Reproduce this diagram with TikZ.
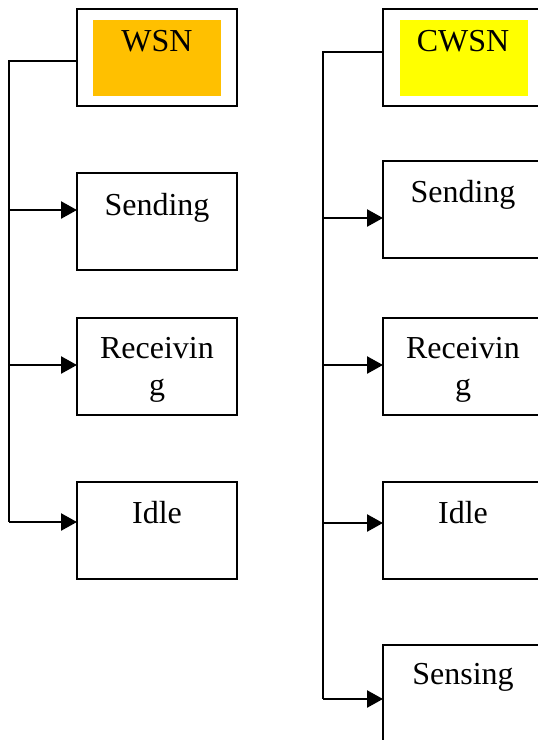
\documentclass[tikz,border=0pt]{standalone}
\usepackage{fontspec}
\setmainfont{Liberation Serif}
\usetikzlibrary{arrows.meta}
\tikzset{
  box/.style={draw=black, line width=1.8pt, rectangle, inner sep=0pt, outer sep=0pt,
    minimum width=160pt, minimum height=97pt, anchor=north west},
  headbox/.style={box, line width=2.4pt},
  fillbox/.style={rectangle, inner sep=0pt, outer sep=0pt, minimum width=128pt,
    minimum height=76pt, anchor=north west},
  txt/.style={font=\fontsize{32}{37}\selectfont, align=center, anchor=base, inner sep=0pt},
  trunk/.style={draw=black, line width=2.2pt},
  arr/.style={draw=black, line width=2.4pt, -{Triangle[length=16pt,width=17pt]}},
}
\definecolor{wsnorange}{HTML}{FFC000}
\definecolor{cwsnyellow}{HTML}{FFFF00}
\begin{document}
\begin{tikzpicture}[x=1pt,y=-1pt]
\useasboundingbox (0,0) rectangle (538,740);
\clip (0,0) rectangle (538,740);
% ---------- left column ----------
\node[headbox] (wsn) at (77,9) {};
\node[fillbox, fill=wsnorange] (wsnF) at (93,20) {};
\node[txt] (wsnT) at ([yshift=-42pt]wsn.north) {WSN};
\node[box] (ls) at (77,173) {};
\node[txt] (lsT) at ([yshift=-42pt]ls.north) {Sending};
\node[box] (lr) at (77,318) {};
\node[txt] (lrT) at ([yshift=-77pt]lr.north) {Receivin\\g};
\node[box] (li) at (77,482) {};
\node[txt] (liT) at ([yshift=-41pt]li.north) {Idle};
% trunk
\coordinate (Ltop) at (9,61);
\coordinate (L1) at (9,210);
\coordinate (L2) at (9,365);
\coordinate (L3) at (9,522);
\draw[trunk] (Ltop -| wsn.west) -- (Ltop) -- (L3);
\draw[arr] (L1) -- (L1 -| ls.west);
\draw[arr] (L2) -- (L2 -| lr.west);
\draw[arr] (L3) -- (L3 -| li.west);
% ---------- right column ----------
\node[headbox] (cwsn) at (383,9) {};
\node[fillbox, fill=cwsnyellow] (cwsnF) at (400,20) {};
\node[txt] (cwsnT) at ([yshift=-42pt]cwsn.north) {CWSN};
\node[box] (rs) at (383,161) {};
\node[txt] (rsT) at ([yshift=-41pt]rs.north) {Sending};
\node[box] (rr) at (383,318) {};
\node[txt] (rrT) at ([yshift=-77pt]rr.north) {Receivin\\g};
\node[box] (ri) at (383,482) {};
\node[txt] (riT) at ([yshift=-41pt]ri.north) {Idle};
\node[box] (rn) at (383,645) {};
\node[txt] (rnT) at ([yshift=-39pt]rn.north) {Sensing};
% trunk
\coordinate (Rtop) at (323,52);
\coordinate (R1) at (323,218);
\coordinate (R2) at (323,365);
\coordinate (R3) at (323,523);
\coordinate (R4) at (323,699);
\draw[trunk] (Rtop -| cwsn.west) -- (Rtop) -- (R4);
\draw[arr] (R1) -- (R1 -| rs.west);
\draw[arr] (R2) -- (R2 -| rr.west);
\draw[arr] (R3) -- (R3 -| ri.west);
\draw[arr] (R4) -- (R4 -| rn.west);
\end{tikzpicture}
\end{document}
